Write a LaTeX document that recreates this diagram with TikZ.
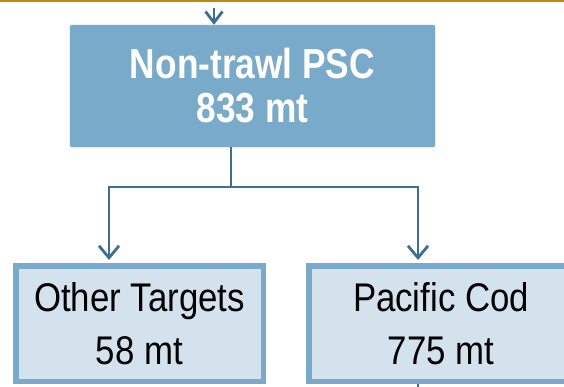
\documentclass[tikz,border=0pt]{standalone}
\usepackage{fontspec}
\setmainfont{Liberation Sans}
\newfontfamily\narrowsans[FakeStretch=0.84]{Liberation Sans}
\newfontfamily\childsans[FakeStretch=0.87]{Liberation Sans}
\usetikzlibrary{arrows.meta}
\definecolor{boxblue}{HTML}{7AAAC9}
\definecolor{paleblue}{HTML}{D4E2EE}
\definecolor{linkblue}{HTML}{3F6E93}
\definecolor{rulegold}{HTML}{C08A10}

\begin{document}
\begin{tikzpicture}
[x=1pt,y=-1pt,%
  parentbox/.style={shape=rectangle,fill=boxblue,draw=boxblue,rounded corners=1.5pt,
    minimum width=365pt,minimum height=122pt,align=center,text=white,
    font=\narrowsans\bfseries\fontsize{42}{44}\selectfont},
  childbox/.style={shape=rectangle,fill=paleblue,draw=boxblue,line width=5.5pt,
    minimum height=115.5pt,align=center,
    font=\childsans\fontsize{40}{53}\selectfont},
  link/.style={draw=linkblue,line width=2.8pt,
    -{Straight Barb[length=12pt,width=20pt]}}]
\useasboundingbox (0,0) rectangle (564,386);
\clip (0,0) rectangle (564,386);
\draw[rulegold,line width=2pt] (0,0.5) -- (564,0.5);
\node[parentbox] (psc) at (252.5,86) {Non-trawl PSC\\833 mt};
\node[childbox,minimum width=247.5pt] (other) at (139.5,323.5) {Other Targets\\58 mt};
\node[childbox,minimum width=264.5pt] (cod) at (441,323.5) {Pacific Cod\\775 mt};
% links
\coordinate (feed) at (214,8);
\coordinate (fork) at (231,187);
\coordinate (onward) at (418,400);
\draw[link,-{Straight Barb[length=11pt,width=17pt]}] (feed) -- (feed |- psc.north);
\draw[link,shorten >=3pt] ([xshift=-21.5pt]psc.south) -- (fork) -| ([xshift=-30.5pt]other.north);
\draw[link,shorten >=3pt] (fork) -| ([xshift=-23pt]cod.north);
\draw[linkblue,line width=2.8pt] ([xshift=-23pt]cod.south) -- (onward);
\end{tikzpicture}
\end{document}
